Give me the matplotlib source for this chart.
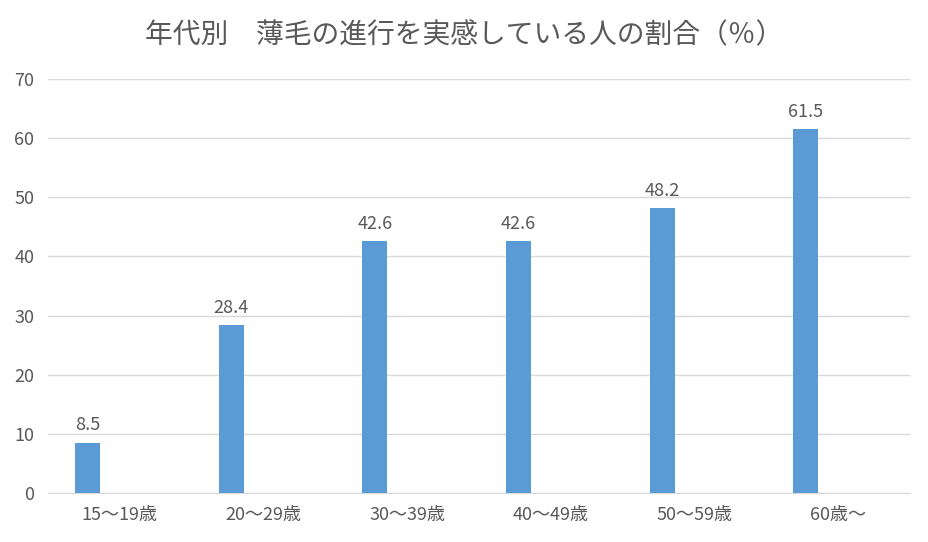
import matplotlib
matplotlib.use("Agg")
import matplotlib.pyplot as plt
import numpy as np

plt.rcParams['font.family'] = ['Noto Sans CJK JP', 'DejaVu Sans']

categories = ["15〜19歳", "20〜29歳", "30〜39歳", "40〜49歳", "50〜59歳", "60歳〜"]
values = [8.5, 28.4, 42.6, 42.6, 48.2, 61.5]
y_ticks = [0, 10, 20, 30, 40, 50, 60, 70]

text_color = "#595959"
bar_color = "#5b9bd5"
grid_color = "#d9d9d9"

fig = plt.figure(figsize=(9.29, 5.42), dpi=100)
ax = fig.add_axes([0.0517, 0.0904, 0.928, 0.7638])

x = np.arange(len(categories))
bars = ax.bar(x - 0.225, values, width=0.174, color=bar_color, zorder=3)

ax.set_xlim(-0.5, len(categories) - 0.5)
ax.set_ylim(0, 70)
ax.set_yticks(y_ticks)
ax.set_xticks(x)
ax.set_xticklabels(categories)
ax.tick_params(axis='both', length=0, labelsize=13, colors=text_color)
ax.tick_params(axis='x', pad=9)
ax.tick_params(axis='y', pad=10)
ax.grid(axis='y', color=grid_color, linewidth=1, zorder=0)

for side in ["top", "right", "left"]:
    ax.spines[side].set_visible(False)
ax.spines["bottom"].set_color(grid_color)

for b, v in zip(bars, values):
    ax.annotate(f"{v}", (b.get_x() + b.get_width() / 2, v), xytext=(0, 6),
                textcoords="offset points", ha="center", va="bottom",
                fontsize=13, color=text_color)

fig.text(0.5, 0.935, "年代別　薄毛の進行を実感している人の割合（％）",
         ha="center", va="center", fontsize=20, color=text_color)

fig.savefig("out.png", dpi=100)
